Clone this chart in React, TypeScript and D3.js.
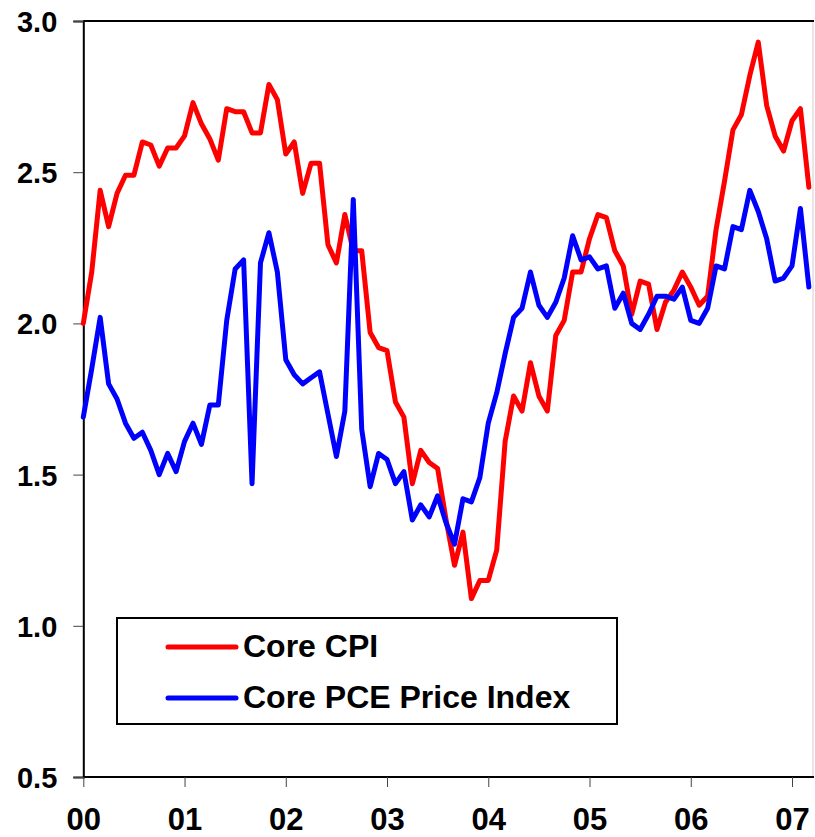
import { useEffect, useRef } from 'react';
import * as d3 from 'd3';

// monthly, Jan 2000 .. Mar 2007 (index 0 = Jan 2000)
const coreCpi = [
  2.0, 2.17, 2.44, 2.32, 2.43, 2.49, 2.49, 2.6, 2.59, 2.52, 2.58, 2.58,
  2.62, 2.73, 2.66, 2.61, 2.54, 2.71, 2.7, 2.7, 2.63, 2.63, 2.79, 2.74,
  2.56, 2.6, 2.43, 2.53, 2.53, 2.26, 2.2, 2.36, 2.24, 2.24, 1.97, 1.92,
  1.91, 1.74, 1.69, 1.47, 1.58, 1.54, 1.52, 1.35, 1.2, 1.31, 1.09, 1.15,
  1.15, 1.25, 1.61, 1.76, 1.71, 1.87, 1.76, 1.71, 1.96, 2.01, 2.17, 2.17,
  2.28, 2.36, 2.35, 2.24, 2.19, 2.03, 2.14, 2.13, 1.98, 2.07, 2.11, 2.17,
  2.12, 2.06, 2.09, 2.31, 2.47, 2.64, 2.69, 2.82, 2.93, 2.72, 2.62, 2.57,
  2.67, 2.71, 2.45,
];

const corePce = [
  1.69, 1.85, 2.02, 1.8, 1.75, 1.67, 1.62, 1.64, 1.58, 1.5, 1.57, 1.51,
  1.61, 1.67, 1.6, 1.73, 1.73, 2.01, 2.18, 2.21, 1.47, 2.2, 2.3, 2.17,
  1.88, 1.83, 1.8, 1.82, 1.84, 1.7, 1.56, 1.71, 2.41, 1.65, 1.46, 1.57,
  1.55, 1.47, 1.51, 1.35, 1.4, 1.36, 1.43, 1.34, 1.27, 1.42, 1.41, 1.49,
  1.67, 1.77, 1.9, 2.02, 2.05, 2.17, 2.06, 2.02, 2.07, 2.15, 2.29, 2.21,
  2.22, 2.18, 2.19, 2.05, 2.1, 2.0, 1.98, 2.03, 2.09, 2.09, 2.08, 2.12,
  2.01, 2.0, 2.05, 2.19, 2.18, 2.32, 2.31, 2.44, 2.37, 2.28, 2.14, 2.15,
  2.19, 2.38, 2.12,
];

const yearLabels = ['00', '01', '02', '03', '04', '05', '06', '07'];
const yTicks = [0.5, 1.0, 1.5, 2.0, 2.5, 3.0];
const seriesNames = ['Core CPI', 'Core PCE Price Index'];
const seriesColors = ['#ff0000', '#0000ff'];

export default function App() {
  const svgRef = useRef<SVGSVGElement>(null);

  useEffect(() => {
    if (!svgRef.current) return;
    const svg = d3.select(svgRef.current);
    svg.selectAll('*').remove();

    const font = "'Liberation Sans', Arial, sans-serif";
    const left = 83.3;
    const right = 813;
    const top = 21;
    const bottom = 777;

    // month index -> px; year ticks every 12 months
    const x = d3.scaleLinear().domain([0, 84]).range([left, 792]);
    const y = d3.scaleLinear().domain([0.5, 3.0]).range([bottom, top]);

    const g = svg.append('g');

    // frame
    g.append('line')
      .attr('x1', right).attr('x2', right).attr('y1', top).attr('y2', bottom)
      .style('stroke', '#d0d0d0').style('stroke-width', 1);
    g.append('line')
      .attr('x1', left).attr('x2', right + 1).attr('y1', top).attr('y2', top)
      .style('stroke', '#000').style('stroke-width', 2);

    // y axis
    const yAxis = g.append('g').attr('transform', `translate(${left},0)`)
      .call(d3.axisLeft(y).tickValues(yTicks).tickSize(10).tickPadding(16).tickFormat(d3.format('.1f')));
    yAxis.select('.domain').style('stroke', '#000').style('stroke-width', 2);
    yAxis.selectAll('.tick line').style('stroke', '#444').style('stroke-width', 1);
    yAxis.selectAll('text')
      .style('font-family', font).style('font-size', '29px').style('font-weight', 'bold')
      .style('fill', '#000').attr('dy', '0.36em');

    // x axis
    const xAxis = g.append('g').attr('transform', `translate(0,${bottom})`)
      .call(
        d3.axisBottom(x)
          .tickValues(yearLabels.map((_, i) => i * 12))
          .tickSize(10)
          .tickPadding(0)
          .tickFormat((_, i) => yearLabels[i])
      );
    xAxis.select('.domain').attr('d', `M${left},0H${right + 1}`).style('stroke', '#000').style('stroke-width', 2);
    xAxis.selectAll('.tick line').style('stroke', '#444').style('stroke-width', 1);
    xAxis.selectAll('text')
      .attr('y', 53).attr('dy', 0)
      .style('font-family', font).style('font-size', '31px').style('font-weight', 'bold')
      .style('fill', '#000');

    // series
    const line = d3.line<number>()
      .x((_, i) => x(i))
      .y((d) => y(d))
      .curve(d3.curveLinear);

    [coreCpi, corePce].forEach((values, k) => {
      g.append('path')
        .datum(values)
        .attr('d', line)
        .style('fill', 'none')
        .style('stroke', seriesColors[k])
        .style('stroke-width', 5)
        .style('stroke-linejoin', 'round')
        .style('stroke-linecap', 'round');
    });

    // legend
    const legend = g.append('g');
    legend.append('rect')
      .attr('x', 117).attr('y', 618).attr('width', 500).attr('height', 106)
      .style('fill', '#fff').style('stroke', '#000').style('stroke-width', 2);
    seriesNames.forEach((name, k) => {
      const ly = 647 + k * 51;
      legend.append('line')
        .attr('x1', 168).attr('x2', 236).attr('y1', ly).attr('y2', ly)
        .style('stroke', seriesColors[k]).style('stroke-width', 5).style('stroke-linecap', 'round');
      legend.append('text')
        .attr('x', 243).attr('y', ly + 10)
        .style('font-family', font).style('font-size', '32px').style('font-weight', 'bold')
        .style('fill', '#000')
        .text(name);
    });
  }, []);

  return (
    <svg
      ref={svgRef}
      width={815}
      height={837}
      style={{ position: 'absolute', left: 0, top: 0, background: '#fff' }}
    />
  );
}
